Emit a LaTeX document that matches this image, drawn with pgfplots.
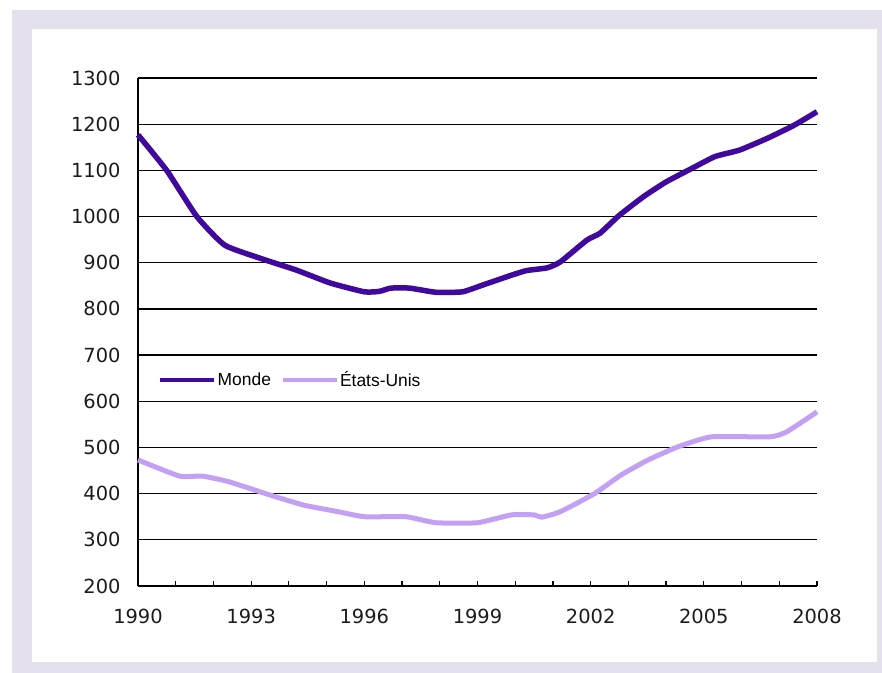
\documentclass[border=0pt]{standalone}
\usepackage{fontspec}
\setmainfont{DejaVu Sans}
\newfontfamily\legfont{Liberation Sans}
\usepackage{pgfplots}
\pgfplotsset{compat=1.18}
\definecolor{monde}{RGB}{64,8,156}
\definecolor{eu}{RGB}{196,160,244}
\definecolor{framecol}{RGB}{228,224,238}
\definecolor{lab}{RGB}{28,28,28}

\begin{document}
\begin{tikzpicture}
\fill[white] (-138bp,-87bp) rectangle (744bp,586bp);
\fill[framecol] (-126bp,-87bp) rectangle (744bp,576bp);
\fill[white] (-106bp,-76bp) rectangle (739bp,557bp);
\begin{axis}[
  scale only axis, width=679bp, height=508bp,
  at={(0,0)}, anchor=south west,
  xmin=1990, xmax=2008, ymin=200, ymax=1300,
  axis lines*=left,
  axis line style={black, line width=1.3bp},
  clip=false,
  xtick={1990,1993,...,2008},
  minor xtick={1990,...,2008},
  tick align=inside,
  major tick length=5bp, minor tick length=5bp,
  xtick style={black, line width=1.2bp},
  minor tick style={black, line width=1.2bp},
  ytick={200,300,...,1300},
  ytick style={draw=none},
  ymajorgrids,
  grid style={black, line width=1.2bp},
  /pgf/number format/assume math mode=true,
  /pgf/number format/1000 sep={},
  tick label style={font=\fontsize{19.5}{22}\selectfont, text=lab},
  yticklabel style={xshift=-14bp},
  xticklabel style={yshift=-20bp},
  legend style={draw=none, fill=none, at={(0.0295,0.4055)}, anchor=west,
    font=\legfont\fontsize{17.5}{20}\selectfont, inner sep=0pt,
    nodes={inner sep=1.5bp},
    /tikz/every even column/.append style={column sep=8bp}},
  legend columns=2,
  legend cell align=left,
  legend image code/.code={\draw[#1, line width=4bp] (0bp,0bp) -- (54bp,0bp);},
]
\addplot[monde, line width=5.5bp, line join=round, smooth, tension=0.3] table {
1990 1177
1990.76 1100
1991.56 1000
1992.3 938
1993.3 908
1994.2 884
1995.1 856
1996.0 837
1996.4 838
1996.7 845
1997.2 845
1997.9 836
1998.6 837
1999.15 852
1999.9 873
2000.3 883
2000.85 889
2001.2 902
2001.9 949
2002.25 964
2002.75 1002
2003.4 1043
2004.0 1075
2004.7 1105
2005.3 1130
2005.95 1144
2006.7 1170
2007.4 1198
2008 1227
};
\addlegendentry{Monde}
\addplot[eu, line width=5bp, line join=round, smooth, tension=0.3] table {
1990 473
1991.1 438
1991.7 438
1992.4 426
1993.5 397
1994.4 375
1995.3 361
1996.0 350
1997.1 350
1997.9 337
1999.0 337
1999.9 354
2000.5 354
2000.7 349
2001.2 361
2002.1 400
2002.8 440
2003.5 472
2004.3 501
2005.2 523
2006.75 523
2007.2 534
2008 577
};
\addlegendentry{États-Unis}
\end{axis}
\end{tikzpicture}
\end{document}
